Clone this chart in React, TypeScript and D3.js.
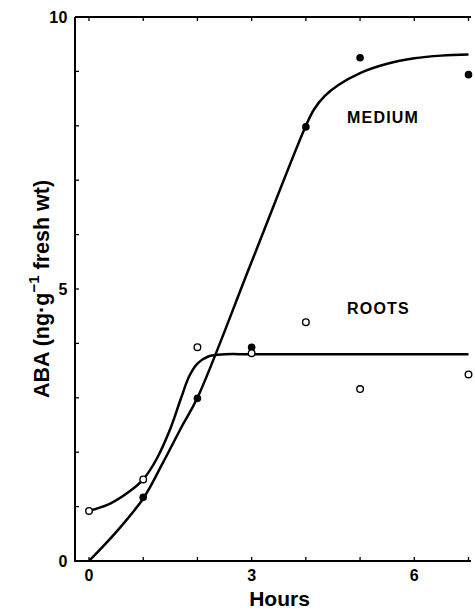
import * as d3 from "d3";

// observed points (hours, ng/g)
const hours = [0, 1, 2, 3, 4, 5, 6, 7];
const mediumPts: [number, number][] = [
  [1, 1.17],
  [2, 2.99],
  [3, 3.93],
  [4, 7.98],
  [5, 9.25],
  [7, 8.94],
];
const rootsPts: [number, number][] = [
  [0, 0.92],
  [1, 1.5],
  [2, 3.93],
  [3, 3.82],
  [4, 4.39],
  [5, 3.16],
  [7, 3.43],
];

// fitted curves
const mediumCurve: [number, number][] = [
  [0, 0], [0.5, 0.53], [1, 1.15], [1.35, 1.78], [1.7, 2.45], [2, 3.0], [3, 5.5], [4, 8.0],
  [4.15, 8.3], [4.35, 8.55], [4.6, 8.75], [5, 8.97], [5.5, 9.14], [6, 9.24], [6.5, 9.29], [7, 9.31],
];
const rootsCurve: [number, number][] = [
  [0, 0.92], [0.4, 1.06], [0.75, 1.28], [1, 1.5], [1.25, 1.88], [1.5, 2.43], [1.7, 3.0],
  [1.85, 3.4], [2.0, 3.63], [2.2, 3.76], [2.5, 3.8], [3, 3.8], [5, 3.8], [7, 3.8],
];

const yTicks = [0, 1, 2, 3, 4, 5, 6, 7, 8, 9, 10];
const yLabels = [0, 5, 10];
const xLabels = [0, 3, 6];

const font = "'Liberation Sans', Arial, Helvetica, sans-serif";

export default function App() {
  const width = 475;
  const height = 611;
  const left = 75;
  const top = 17;
  const bottom = 561;
  const right = 471;

  const x = d3.scaleLinear().domain([0, 7]).range([89, 468.5]);
  const y = d3.scaleLinear().domain([0, 10]).range([bottom, top]);

  const line = d3
    .line<[number, number]>()
    .x((d) => x(d[0]))
    .y((d) => y(d[1]))
    .curve(d3.curveCatmullRom.alpha(0.5));

  return (
    <div style={{ position: "absolute", left: 0, top: 0 }}>
      <svg width={width} height={height} style={{ display: "block", background: "#fff" }}>
        {/* frame: left, bottom, top */}
        <path
          d={`M${left},${top}V${bottom}H${right}M${left},${top}H${right}`}
          fill="none"
          stroke="#000"
          strokeWidth={2}
        />
        {yTicks.map((t) => (
          <line key={"yt" + t} x1={left} x2={left + 4} y1={y(t)} y2={y(t)} stroke="#000" strokeWidth={1.3} />
        ))}
        {hours.map((h) => (
          <g key={"xt" + h}>
            <line x1={x(h)} x2={x(h)} y1={bottom} y2={bottom - 4} stroke="#000" strokeWidth={1.3} />
            <line x1={x(h)} x2={x(h)} y1={top} y2={top + 4} stroke="#000" strokeWidth={1.3} />
          </g>
        ))}
        {yLabels.map((t) => (
          <text
            key={"yl" + t}
            x={68}
            y={y(t) + 5.5}
            textAnchor="end"
            fontFamily={font}
            fontWeight="bold"
            fontSize={16}
            letterSpacing={0.5}
          >
            {t}
          </text>
        ))}
        {xLabels.map((t) => (
          <text
            key={"xl" + t}
            x={x(t)}
            y={581}
            textAnchor="middle"
            fontFamily={font}
            fontWeight="bold"
            fontSize={16}
          >
            {t}
          </text>
        ))}
        <text x={279.5} y={606} textAnchor="middle" fontFamily={font} fontWeight="bold" fontSize={21}>
          Hours
        </text>
        <text
          transform="translate(49,289) rotate(-90)"
          textAnchor="middle"
          fontFamily={font}
          fontWeight="bold"
          fontSize={21.5}
        >
          ABA (ng·g
          <tspan fontSize={15} dy={-10}>−1</tspan>
          <tspan dy={10}> fresh wt)</tspan>
        </text>

        {/* curves */}
        <path d={line(mediumCurve) ?? ""} fill="none" stroke="#000" strokeWidth={2.5} />
        <path d={line(rootsCurve) ?? ""} fill="none" stroke="#000" strokeWidth={2.5} />

        {/* points */}
        {mediumPts.map((d, i) => (
          <circle key={"m" + i} cx={x(d[0])} cy={y(d[1])} r={3.8} fill="#000" />
        ))}
        {rootsPts.map((d, i) => (
          <circle
            key={"r" + i}
            cx={x(d[0])}
            cy={y(d[1])}
            r={3.3}
            fill="#fff"
            stroke="#000"
            strokeWidth={1.4}
          />
        ))}

        <text x={347} y={123} fontFamily={font} fontWeight="bold" fontSize={16} letterSpacing={1.2}>
          MEDIUM
        </text>
        <text x={347} y={314} fontFamily={font} fontWeight="bold" fontSize={16} letterSpacing={1.2}>
          ROOTS
        </text>
      </svg>
    </div>
  );
}
